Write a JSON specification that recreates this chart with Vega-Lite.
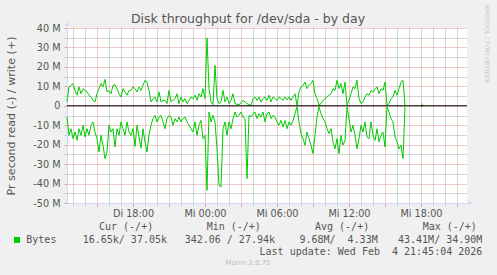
{
  "$schema": "https://vega.github.io/schema/vega-lite/v6.json",
  "width": 400,
  "height": 175,
  "autosize": "none",
  "padding": {"left": 67, "top": 28, "right": 30, "bottom": 72},
  "background": "#f0f0f0",
  "config": {"view": {"fill": "#ffffff", "stroke": null}, "font": "DejaVu Sans"},
  "title": {"text": "Disk throughput for /dev/sda - by day", "font": "DejaVu Sans", "fontSize": 12.5, "fontWeight": "normal", "color": "#555555", "anchor": "middle", "frame": "group", "dx": -19, "baseline": "alphabetic", "offset": -30.7},
  "datasets": {
    "disk": [
      {"t":"2026-02-03T12:30Z","write":2.0,"read":-5.8},
      {"t":"2026-02-03T12:40Z","write":9.7,"read":-15.2},
      {"t":"2026-02-03T12:50Z","write":10.5,"read":-11.8},
      {"t":"2026-02-03T13:00Z","write":11.4,"read":-16.9},
      {"t":"2026-02-03T13:10Z","write":7.9,"read":-13.5},
      {"t":"2026-02-03T13:20Z","write":5.4,"read":-17.8},
      {"t":"2026-02-03T13:30Z","write":9.7,"read":-11.8},
      {"t":"2026-02-03T13:40Z","write":6.2,"read":-15.2},
      {"t":"2026-02-03T13:50Z","write":8.8,"read":-10.0},
      {"t":"2026-02-03T14:00Z","write":7.9,"read":-16.0},
      {"t":"2026-02-03T14:10Z","write":7.1,"read":-11.8},
      {"t":"2026-02-03T14:20Z","write":5.4,"read":-15.2},
      {"t":"2026-02-03T14:30Z","write":4.5,"read":-10.0},
      {"t":"2026-02-03T14:40Z","write":2.8,"read":-8.3},
      {"t":"2026-02-03T14:50Z","write":2.0,"read":-13.5},
      {"t":"2026-02-03T15:00Z","write":6.2,"read":-16.9},
      {"t":"2026-02-03T15:10Z","write":8.8,"read":-23.8},
      {"t":"2026-02-03T15:20Z","write":11.4,"read":-15.2},
      {"t":"2026-02-03T15:30Z","write":9.7,"read":-20.3},
      {"t":"2026-02-03T15:40Z","write":13.6,"read":-27.2},
      {"t":"2026-02-03T15:50Z","write":7.1,"read":-23.8},
      {"t":"2026-02-03T16:00Z","write":7.9,"read":-10.0},
      {"t":"2026-02-03T16:10Z","write":6.2,"read":-13.5},
      {"t":"2026-02-03T16:20Z","write":10.5,"read":-11.8},
      {"t":"2026-02-03T16:30Z","write":10.8,"read":-21.2},
      {"t":"2026-02-03T16:40Z","write":8.8,"read":-11.8},
      {"t":"2026-02-03T16:50Z","write":6.2,"read":-15.2},
      {"t":"2026-02-03T17:00Z","write":4.5,"read":-8.3},
      {"t":"2026-02-03T17:10Z","write":8.8,"read":-11.8},
      {"t":"2026-02-03T17:20Z","write":7.1,"read":-15.2},
      {"t":"2026-02-03T17:30Z","write":5.4,"read":-8.3},
      {"t":"2026-02-03T17:40Z","write":7.9,"read":-13.5},
      {"t":"2026-02-03T17:50Z","write":7.9,"read":-15.2},
      {"t":"2026-02-03T18:00Z","write":9.7,"read":-11.8},
      {"t":"2026-02-03T18:10Z","write":8.8,"read":-20.9},
      {"t":"2026-02-03T18:20Z","write":7.1,"read":-10.0},
      {"t":"2026-02-03T18:30Z","write":9.7,"read":-16.0},
      {"t":"2026-02-03T18:40Z","write":7.9,"read":-21.8},
      {"t":"2026-02-03T18:50Z","write":10.5,"read":-11.8},
      {"t":"2026-02-03T19:00Z","write":13.1,"read":-18.6},
      {"t":"2026-02-03T19:10Z","write":12.2,"read":-23.8},
      {"t":"2026-02-03T19:20Z","write":7.9,"read":-15.2},
      {"t":"2026-02-03T19:30Z","write":2.0,"read":-10.0},
      {"t":"2026-02-03T19:40Z","write":3.7,"read":-6.6},
      {"t":"2026-02-03T19:50Z","write":4.5,"read":-4.9},
      {"t":"2026-02-03T20:00Z","write":2.0,"read":-8.3},
      {"t":"2026-02-03T20:10Z","write":7.1,"read":-5.8},
      {"t":"2026-02-03T20:20Z","write":2.0,"read":-4.9},
      {"t":"2026-02-03T20:30Z","write":2.8,"read":-8.3},
      {"t":"2026-02-03T20:40Z","write":2.8,"read":-11.8},
      {"t":"2026-02-03T20:50Z","write":1.1,"read":-6.6},
      {"t":"2026-02-03T21:00Z","write":7.9,"read":-4.9},
      {"t":"2026-02-03T21:10Z","write":2.0,"read":-5.8},
      {"t":"2026-02-03T21:20Z","write":2.8,"read":-10.0},
      {"t":"2026-02-03T21:30Z","write":3.7,"read":-6.6},
      {"t":"2026-02-03T21:40Z","write":6.2,"read":-8.3},
      {"t":"2026-02-03T21:50Z","write":1.1,"read":-5.8},
      {"t":"2026-02-03T22:00Z","write":4.5,"read":-8.3},
      {"t":"2026-02-03T22:10Z","write":2.0,"read":-6.6},
      {"t":"2026-02-03T22:20Z","write":3.7,"read":-5.8},
      {"t":"2026-02-03T22:30Z","write":1.1,"read":-8.3},
      {"t":"2026-02-03T22:40Z","write":2.8,"read":-10.0},
      {"t":"2026-02-03T22:50Z","write":4.5,"read":-11.8},
      {"t":"2026-02-03T23:00Z","write":3.7,"read":-13.5},
      {"t":"2026-02-03T23:10Z","write":5.4,"read":-8.3},
      {"t":"2026-02-03T23:20Z","write":2.8,"read":-15.2},
      {"t":"2026-02-03T23:30Z","write":6.2,"read":-10.0},
      {"t":"2026-02-03T23:40Z","write":4.5,"read":-7.5},
      {"t":"2026-02-03T23:50Z","write":8.8,"read":-16.9},
      {"t":"2026-02-04T00:00Z","write":3.7,"read":-15.2},
      {"t":"2026-02-04T00:10Z","write":34.9,"read":-43.4},
      {"t":"2026-02-04T00:20Z","write":8.8,"read":-3.2},
      {"t":"2026-02-04T00:30Z","write":2.0,"read":-8.3},
      {"t":"2026-02-04T00:40Z","write":0.6,"read":-4.9},
      {"t":"2026-02-04T00:50Z","write":20.8,"read":-8.3},
      {"t":"2026-02-04T01:00Z","write":3.7,"read":-22.1},
      {"t":"2026-02-04T01:10Z","write":1.1,"read":-40.9},
      {"t":"2026-02-04T01:20Z","write":2.0,"read":-41.8},
      {"t":"2026-02-04T01:30Z","write":7.9,"read":-11.8},
      {"t":"2026-02-04T01:40Z","write":2.0,"read":-8.3},
      {"t":"2026-02-04T01:50Z","write":4.5,"read":-15.2},
      {"t":"2026-02-04T02:00Z","write":1.1,"read":-8.3},
      {"t":"2026-02-04T02:10Z","write":2.8,"read":-11.8},
      {"t":"2026-02-04T02:20Z","write":6.2,"read":-6.6},
      {"t":"2026-02-04T02:30Z","write":1.1,"read":-3.2},
      {"t":"2026-02-04T02:40Z","write":0.8,"read":-5.8},
      {"t":"2026-02-04T02:50Z","write":0.6,"read":-4.9},
      {"t":"2026-02-04T03:00Z","write":1.5,"read":-3.2},
      {"t":"2026-02-04T03:10Z","write":2.8,"read":-5.8},
      {"t":"2026-02-04T03:20Z","write":2.0,"read":-6.6},
      {"t":"2026-02-04T03:30Z","write":1.1,"read":-37.5},
      {"t":"2026-02-04T03:40Z","write":0.6,"read":-4.9},
      {"t":"2026-02-04T03:50Z","write":0.2,"read":-5.8},
      {"t":"2026-02-04T04:00Z","write":3.7,"read":-4.1},
      {"t":"2026-02-04T04:10Z","write":4.5,"read":-3.2},
      {"t":"2026-02-04T04:20Z","write":2.8,"read":-6.6},
      {"t":"2026-02-04T04:30Z","write":4.5,"read":-4.1},
      {"t":"2026-02-04T04:40Z","write":2.0,"read":-5.8},
      {"t":"2026-02-04T04:50Z","write":3.7,"read":-3.2},
      {"t":"2026-02-04T05:00Z","write":4.5,"read":-8.3},
      {"t":"2026-02-04T05:10Z","write":2.8,"read":-4.1},
      {"t":"2026-02-04T05:20Z","write":5.4,"read":-3.2},
      {"t":"2026-02-04T05:30Z","write":2.0,"read":-6.6},
      {"t":"2026-02-04T05:40Z","write":4.5,"read":-4.9},
      {"t":"2026-02-04T05:50Z","write":3.7,"read":-5.8},
      {"t":"2026-02-04T06:00Z","write":2.8,"read":-8.3},
      {"t":"2026-02-04T06:10Z","write":4.5,"read":-10.0},
      {"t":"2026-02-04T06:20Z","write":3.7,"read":-7.5},
      {"t":"2026-02-04T06:30Z","write":2.8,"read":-10.9},
      {"t":"2026-02-04T06:40Z","write":4.5,"read":-7.5},
      {"t":"2026-02-04T06:50Z","write":3.0,"read":-11.8},
      {"t":"2026-02-04T07:00Z","write":4.5,"read":-8.3},
      {"t":"2026-02-04T07:10Z","write":2.8,"read":-10.0},
      {"t":"2026-02-04T07:20Z","write":4.5,"read":-7.5},
      {"t":"2026-02-04T07:30Z","write":6.2,"read":-4.1},
      {"t":"2026-02-04T07:40Z","write":0.2,"read":-0.5},
      {"t":"2026-02-04T07:50Z","write":7.1,"read":-8.3},
      {"t":"2026-02-04T08:00Z","write":9.7,"read":-14.3},
      {"t":"2026-02-04T08:10Z","write":10.5,"read":-16.9},
      {"t":"2026-02-04T08:20Z","write":12.2,"read":-20.3},
      {"t":"2026-02-04T08:30Z","write":8.8,"read":-13.5},
      {"t":"2026-02-04T08:40Z","write":10.5,"read":-16.9},
      {"t":"2026-02-04T08:50Z","write":11.4,"read":-20.3},
      {"t":"2026-02-04T09:00Z","write":13.1,"read":-24.6},
      {"t":"2026-02-04T09:10Z","write":6.2,"read":-15.2},
      {"t":"2026-02-04T09:20Z","write":3.7,"read":-5.8},
      {"t":"2026-02-04T09:30Z","write":0.4,"read":-0.5},
      {"t":"2026-02-04T09:40Z","write":1.1,"read":-4.1},
      {"t":"2026-02-04T09:50Z","write":2.8,"read":-6.6},
      {"t":"2026-02-04T10:00Z","write":3.7,"read":-8.3},
      {"t":"2026-02-04T10:10Z","write":4.5,"read":-11.8},
      {"t":"2026-02-04T10:20Z","write":5.4,"read":-14.3},
      {"t":"2026-02-04T10:30Z","write":6.2,"read":-11.8},
      {"t":"2026-02-04T10:40Z","write":8.8,"read":-18.6},
      {"t":"2026-02-04T10:50Z","write":7.9,"read":-22.1},
      {"t":"2026-02-04T11:00Z","write":13.1,"read":-16.9},
      {"t":"2026-02-04T11:10Z","write":8.8,"read":-24.6},
      {"t":"2026-02-04T11:20Z","write":11.4,"read":-15.2},
      {"t":"2026-02-04T11:30Z","write":6.2,"read":-20.3},
      {"t":"2026-02-04T11:40Z","write":12.2,"read":-17.8},
      {"t":"2026-02-04T11:50Z","write":0.4,"read":-0.5},
      {"t":"2026-02-04T12:00Z","write":2.8,"read":-6.6},
      {"t":"2026-02-04T12:10Z","write":6.2,"read":-13.5},
      {"t":"2026-02-04T12:20Z","write":9.7,"read":-10.0},
      {"t":"2026-02-04T12:30Z","write":8.8,"read":-15.2},
      {"t":"2026-02-04T12:40Z","write":13.1,"read":-22.1},
      {"t":"2026-02-04T12:50Z","write":3.7,"read":-16.9},
      {"t":"2026-02-04T13:00Z","write":1.1,"read":-10.0},
      {"t":"2026-02-04T13:10Z","write":2.0,"read":-13.5},
      {"t":"2026-02-04T13:20Z","write":4.5,"read":-8.3},
      {"t":"2026-02-04T13:30Z","write":6.2,"read":-16.0},
      {"t":"2026-02-04T13:40Z","write":5.4,"read":-16.9},
      {"t":"2026-02-04T13:50Z","write":7.9,"read":-8.3},
      {"t":"2026-02-04T14:00Z","write":7.1,"read":-15.2},
      {"t":"2026-02-04T14:10Z","write":8.8,"read":-17.8},
      {"t":"2026-02-04T14:20Z","write":9.7,"read":-11.8},
      {"t":"2026-02-04T14:30Z","write":6.2,"read":-18.6},
      {"t":"2026-02-04T14:40Z","write":8.8,"read":-15.2},
      {"t":"2026-02-04T14:50Z","write":7.9,"read":-13.5},
      {"t":"2026-02-04T15:00Z","write":12.2,"read":-21.2},
      {"t":"2026-02-04T15:10Z","write":0.4,"read":-0.5},
      {"t":"2026-02-04T15:20Z","write":1.1,"read":-3.2},
      {"t":"2026-02-04T15:30Z","write":3.7,"read":-6.6},
      {"t":"2026-02-04T15:40Z","write":4.5,"read":-8.3},
      {"t":"2026-02-04T15:50Z","write":7.9,"read":-16.0},
      {"t":"2026-02-04T16:00Z","write":5.4,"read":-18.6},
      {"t":"2026-02-04T16:10Z","write":8.8,"read":-22.1},
      {"t":"2026-02-04T16:20Z","write":12.2,"read":-20.3},
      {"t":"2026-02-04T16:30Z","write":13.1,"read":-27.2},
      {"t":"2026-02-04T16:40Z","write":0.2,"read":-0.5},
      {"t":"2026-02-04T16:50Z","write":null,"read":null},
      {"t":"2026-02-04T18:00Z","write":1.2,"read":-0.3},
      {"t":"2026-02-04T18:10Z","write":0.2,"read":-0.1}
    ]
  },
  "layer": [
    {
      "data": {"name": "disk"},
      "transform": [{"fold": ["write", "read"], "as": ["dir", "bytes"]}],
      "mark": {"type": "line", "color": "#00cc00", "strokeWidth": 1, "invalid": "break-paths-show-domains"},
      "encoding": {
        "x": {
          "field": "t", "type": "temporal",
          "scale": {"type": "utc", "domain": [
            {"year": 2026, "month": 2, "date": 3, "hours": 12, "minutes": 30, "utc": true},
            {"year": 2026, "month": 2, "date": 4, "hours": 21, "minutes": 50, "utc": true}
          ]},
          "axis": {
            "title": null,
            "tickCount": 100,
            "values": [1770123600000, 1770127200000, 1770130800000, 1770134400000, 1770138000000, 1770141600000, 1770145200000, 1770148800000, 1770152400000, 1770156000000, 1770159600000, 1770163200000, 1770166800000, 1770170400000, 1770174000000, 1770177600000, 1770181200000, 1770184800000, 1770188400000, 1770192000000, 1770195600000, 1770199200000, 1770202800000, 1770206400000, 1770210000000, 1770213600000, 1770217200000, 1770220800000, 1770224400000, 1770228000000, 1770231600000, 1770235200000, 1770238800000],
            "grid": true,
            "gridColor": {"condition": {"test": "utchours(datum.value) % 3 === 0", "value": "#eb9595"}, "value": "#ababab"},
            "gridDash": [1, 1],
            "gridWidth": 1,
            "ticks": true,
            "tickSize": 3,
            "tickColor": {"condition": {"test": "utchours(datum.value) % 3 === 0", "value": "#eb9595"}, "value": "#cccccc"},
            "labelExpr": "utchours(datum.value) % 6 === 0 ? ['So','Mo','Di','Mi','Do','Fr','Sa'][utcday(datum.value)] + ' ' + utcFormat(datum.value, '%H:%M') : ''",
            "labelFont": "DejaVu Sans",
            "labelFontSize": 9.7,
            "labelColor": "#555555",
            "labelPadding": 2,
            "labelOverlap": false,
            "labelFlush": false,
            "labelBound": false,
            "domain": true,
            "domainColor": "#CFD6F8"
          }
        },
        "y": {
          "field": "bytes", "type": "quantitative",
          "scale": {"domain": [-50, 40], "nice": false, "zero": false},
          "axis": {
            "title": "Pr second read (-) / write (+)",
            "titleFont": "DejaVu Sans",
            "titleFontSize": 11.1,
            "titleFontWeight": "normal",
            "titleColor": "#555555",
            "titlePadding": 16,
            "tickCount": 100,
            "values": [-50, -45, -40, -35, -30, -25, -20, -15, -10, -5, 0, 5, 10, 15, 20, 25, 30, 35, 40],
            "grid": true,
            "gridColor": {"condition": {"test": "datum.value % 10 === 0", "value": "#eb9595"}, "value": "#ababab"},
            "gridDash": [1, 1],
            "ticks": true,
            "tickSize": 3,
            "tickColor": {"condition": {"test": "datum.value % 10 === 0", "value": "#eb9595"}, "value": "#cccccc"},
            "labelExpr": "datum.value % 10 === 0 ? (datum.value === 0 ? '0' : datum.value + ' M') : ''",
            "labelFont": "DejaVu Sans",
            "labelFontSize": 9.7,
            "labelColor": "#555555",
            "labelPadding": 4,
            "labelOverlap": false,
            "labelFlush": false,
            "domain": true,
            "domainColor": "#CFD6F8"
          }
        },
        "detail": {"field": "dir"}
      }
    },
    {
      "data": {"values": [{}]},
      "mark": {"type": "rule", "color": "#000000", "strokeWidth": 1},
      "encoding": {"y": {"datum": 0}}
    },
    {
      "data": {"values": [{}]},
      "mark": {"type": "point", "shape": "triangle-up", "filled": true, "size": 22, "color": "#CFD6F8", "opacity": 1},
      "encoding": {
        "x": {"datum": {"year": 2026, "month": 2, "date": 3, "hours": 12, "minutes": 30, "utc": true}, "type": "temporal"},
        "y": {"datum": 42.1}
      }
    },
    {
      "data": {"values": [{}]},
      "mark": {"type": "point", "shape": "triangle-right", "filled": true, "size": 22, "color": "#CFD6F8", "opacity": 1},
      "encoding": {
        "x": {"datum": {"year": 2026, "month": 2, "date": 4, "hours": 22, "minutes": 7, "seconds": 30, "utc": true}, "type": "temporal"},
        "y": {"datum": -50}
      }
    },
    {
      "data": {"values": [{}]},
      "mark": {"type": "text", "text": "RRDTOOL / TOBI OETIKER", "font": "DejaVu Sans", "fontSize": 6.1, "color": "#c8c8c8", "angle": 90, "align": "left", "baseline": "middle"},
      "encoding": {
        "x": {"datum": {"year": 2026, "month": 2, "date": 4, "hours": 23, "minutes": 30, "utc": true}, "type": "temporal"},
        "y": {"datum": 51.85}
      }
    },
    {
      "data": {"values": [{}]},
      "mark": {"type": "text", "text": "Cur (-/+)", "font": "DejaVu Sans Mono", "fontSize": 10, "color": "#555555", "align": "left", "baseline": "middle"},
      "encoding": {
        "x": {"datum": {"year": 2026, "month": 2, "date": 3, "hours": 15, "minutes": 10, "utc": true}, "type": "temporal"},
        "y": {"datum": -62.3}
      }
    },
    {
      "data": {"values": [{}]},
      "mark": {"type": "text", "text": "Min (-/+)", "font": "DejaVu Sans Mono", "fontSize": 10, "color": "#555555", "align": "left", "baseline": "middle"},
      "encoding": {
        "x": {"datum": {"year": 2026, "month": 2, "date": 4, "hours": 0, "minutes": 8, "seconds": 30, "utc": true}, "type": "temporal"},
        "y": {"datum": -62.3}
      }
    },
    {
      "data": {"values": [{}]},
      "mark": {"type": "text", "text": "Avg (-/+)", "font": "DejaVu Sans Mono", "fontSize": 10, "color": "#555555", "align": "left", "baseline": "middle"},
      "encoding": {
        "x": {"datum": {"year": 2026, "month": 2, "date": 4, "hours": 9, "minutes": 10, "utc": true}, "type": "temporal"},
        "y": {"datum": -62.3}
      }
    },
    {
      "data": {"values": [{}]},
      "mark": {"type": "text", "text": "Max (-/+)", "font": "DejaVu Sans Mono", "fontSize": 10, "color": "#555555", "align": "left", "baseline": "middle"},
      "encoding": {
        "x": {"datum": {"year": 2026, "month": 2, "date": 4, "hours": 18, "minutes": 8, "seconds": 30, "utc": true}, "type": "temporal"},
        "y": {"datum": -62.3}
      }
    },
    {
      "data": {"values": [{}]},
      "mark": {"type": "point", "shape": "square", "filled": true, "size": 36, "color": "#00cc00", "opacity": 1},
      "encoding": {
        "x": {"datum": {"year": 2026, "month": 2, "date": 3, "hours": 8, "minutes": 20, "utc": true}, "type": "temporal"},
        "y": {"datum": -69.0}
      }
    },
    {
      "data": {"values": [{}]},
      "mark": {"type": "text", "text": "Bytes", "font": "DejaVu Sans Mono", "fontSize": 10, "color": "#555555", "align": "left", "baseline": "middle"},
      "encoding": {
        "x": {"datum": {"year": 2026, "month": 2, "date": 3, "hours": 9, "minutes": 6, "seconds": 30, "utc": true}, "type": "temporal"},
        "y": {"datum": -69.0}
      }
    },
    {
      "data": {"values": [{}]},
      "mark": {"type": "text", "text": "16.65k/ 37.05k", "font": "DejaVu Sans Mono", "fontSize": 10, "color": "#555555", "align": "right", "baseline": "middle"},
      "encoding": {
        "x": {"datum": {"year": 2026, "month": 2, "date": 3, "hours": 20, "minutes": 50, "utc": true}, "type": "temporal"},
        "y": {"datum": -69.0}
      }
    },
    {
      "data": {"values": [{}]},
      "mark": {"type": "text", "text": "342.06 / 27.94k", "font": "DejaVu Sans Mono", "fontSize": 10, "color": "#555555", "align": "right", "baseline": "middle"},
      "encoding": {
        "x": {"datum": {"year": 2026, "month": 2, "date": 4, "hours": 5, "minutes": 50, "utc": true}, "type": "temporal"},
        "y": {"datum": -69.0}
      }
    },
    {
      "data": {"values": [{}]},
      "mark": {"type": "text", "text": "9.68M/\u00a0 4.33M", "font": "DejaVu Sans Mono", "fontSize": 10, "color": "#555555", "align": "right", "baseline": "middle"},
      "encoding": {
        "x": {"datum": {"year": 2026, "month": 2, "date": 4, "hours": 14, "minutes": 23, "seconds": 30, "utc": true}, "type": "temporal"},
        "y": {"datum": -69.0}
      }
    },
    {
      "data": {"values": [{}]},
      "mark": {"type": "text", "text": "43.41M/ 34.90M", "font": "DejaVu Sans Mono", "fontSize": 10, "color": "#555555", "align": "right", "baseline": "middle"},
      "encoding": {
        "x": {"datum": {"year": 2026, "month": 2, "date": 4, "hours": 23, "minutes": 6, "seconds": 30, "utc": true}, "type": "temporal"},
        "y": {"datum": -69.0}
      }
    },
    {
      "data": {"values": [{}]},
      "mark": {"type": "text", "text": "Last update: Wed Feb\u00a0 4 21:45:04 2026", "font": "DejaVu Sans Mono", "fontSize": 10, "color": "#555555", "align": "right", "baseline": "middle"},
      "encoding": {
        "x": {"datum": {"year": 2026, "month": 2, "date": 4, "hours": 23, "minutes": 6, "seconds": 30, "utc": true}, "type": "temporal"},
        "y": {"datum": -75.2}
      }
    },
    {
      "data": {"values": [{}]},
      "mark": {"type": "text", "text": "Munin 2.0.75", "font": "DejaVu Sans", "fontSize": 6.9, "color": "#bbbbbb", "align": "center", "baseline": "middle"},
      "encoding": {
        "x": {"datum": {"year": 2026, "month": 2, "date": 4, "hours": 3, "minutes": 35, "utc": true}, "type": "temporal"},
        "y": {"datum": -81.1}
      }
    }
  ]
}
